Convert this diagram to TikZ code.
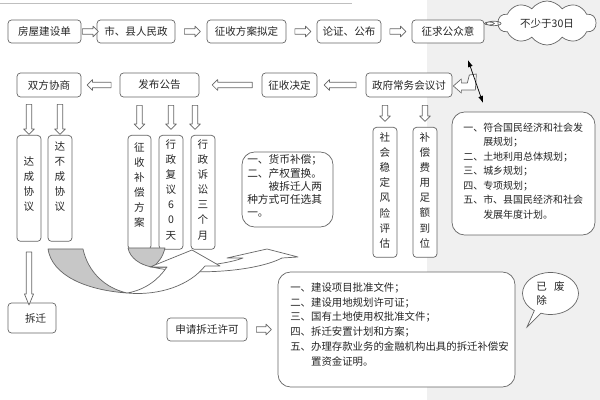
\documentclass[tikz,border=0pt]{standalone}
\usepackage{fontspec}
\setmainfont{Noto Sans CJK SC}
\usetikzlibrary{calc,arrows.meta,shapes.arrows,shapes.symbols,shapes.callouts}

\newcommand\unitpx{0.025cm}
\tikzset{
  sz/.style 2 args={minimum width=#1*\unitpx, minimum height=#2*\unitpx},
  box/.style={draw=black!60, line width=0.5pt, fill=white, rounded corners=2.5pt, inner sep=0pt, text=black!85, font=\fontsize{7.5}{10}\selectfont},
  bigbox/.style={box, rounded corners=9pt},
  vtxt/.style={align=center, inner sep=0pt, text=black!85, font=\fontsize{7.5}{10.7}\selectfont},
  ltxt/.style={align=left, inner sep=0pt, text=black!85},
  hollow/.style={draw=black!60, fill=white, line width=0.5pt, line join=round},
  blockarrow/.style={hollow, single arrow, inner sep=1.7pt, single arrow head extend=1.9pt, single arrow tip angle=90},
  rarrow/.style={blockarrow},
  larrow/.style={blockarrow, shape border rotate=180},
  darrow/.style={blockarrow, shape border rotate=270},
}

\begin{document}
\begin{tikzpicture}[x=\unitpx, y=-\unitpx]
  % page
  \fill[white] (0,0) rectangle (427,400);
  \fill[black!6] (427,0) rectangle (600,400);
  \useasboundingbox (0,0) rectangle (600,400);
  \draw[black!25, line width=0.6pt] (0,3) -- (352,3);

  % first row
  \node[box, sz={73}{23}] (fw) at (44.5,31.5) {房屋建设单};
  \node[box, sz={78}{23}] (shi) at (136,31.5) {市、县人民政};
  \node[box, sz={79}{23}] (ni) at (246.5,31.5) {征收方案拟定};
  \node[box, sz={64}{23}] (lz) at (349,31.5) {论证、公布};
  \node[box, sz={72}{23}] (zq) at (448,31.5) {征求公众意};
  \foreach \a/\b in {fw/shi, shi/ni, ni/lz, lz/zq}
    \node[rarrow, minimum height=16*\unitpx] (r-\a) at ($(\a.east)!.5!(\b.west)$) {};
  \node[cloud callout, draw=black!60, fill=white, line width=0.5pt, cloud puffs=10,
        cloud puff arc=110, cloud ignores aspect, sz={98}{44}, inner sep=0pt,
        callout absolute pointer={($(zq.east)+(5,-8)$)}, text=black!85,
        font=\fontsize{7.5}{9}\selectfont] (ts) at (547,23) {不少于30日};

  % second row
  \node[box, sz={64}{24}] (xs) at (49,85) {双方协商};
  \node[box, sz={79}{24}] (fb) at (159.5,85) {发布公告};
  \node[box, sz={55}{24}] (jd) at (289.5,85) {征收决定};
  \node[box, sz={86}{24}] (zf) at (409,85) {政府常务会议讨};
  \node[larrow, minimum height=24*\unitpx] (l-xs) at ($(xs.east)!.5!(fb.west)$) {};
  \node[larrow, minimum height=40*\unitpx] (l-fb) at ($(fb.east)!.55!(jd.west)$) {};
  \node[larrow, minimum height=32*\unitpx] (l-jd) at ($(jd.east)!.5!(zf.west)$) {};
  \path[hollow] ($(zf.east)+(1,1)$) -- ++(8,-7) -- ++(0,4) -- ++(6,0) -- ++(2,-8)
    -- ++(7,-1) -- ++(-1,16) -- ++(-14,0) -- ++(0,3) -- cycle;
  \coordinate (dj-a) at (468,60);
  \coordinate (dj-b) at (483,103);
  \draw[{Latex[length=5pt,width=3.5pt]}-{Latex[length=5pt,width=3.5pt]}, line width=0.5pt] (dj-a) -- (dj-b);

  % vertical boxes
  \node[box, sz={24}{106}, anchor=north] (dc) at (29,135) {};
  \node[box, sz={24}{106}, anchor=north] (dbc) at (60,135) {};
  \node[box, sz={23}{114}, anchor=north] (zb) at (139.5,135) {};
  \node[box, sz={24}{114}, anchor=north] (fy) at (171,135) {};
  \node[box, sz={24}{114}, anchor=north] (ss) at (203,135) {};
  \node[box, sz={24}{130}, anchor=north] (wd) at (385,127) {};
  \node[box, sz={24}{130}, anchor=north] (zj) at (425,127) {};
  \node[vtxt, anchor=north] (dc-t) at ($(dc.north)+(0,21.6)$) {达\\成\\协\\议};
  \node[vtxt, anchor=north] (dbc-t) at ($(dbc.north)+(0,6.6)$) {达\\不\\成\\协\\议};
  \node[vtxt, anchor=north] (zb-t) at ($(zb.north)+(0,7.6)$) {征\\收\\补\\偿\\方\\案};
  \node[vtxt, anchor=north] (fy-t) at ($(fy.north)+(0,4.6)$) {行\\政\\复\\议\\6\\0\\天};
  \node[vtxt, anchor=north] (ss-t) at ($(ss.north)+(0,4.6)$) {行\\政\\诉\\讼\\三\\个\\月};
  \node[vtxt, anchor=north] (wd-t) at ($(wd.north)+(0,5.6)$) {社\\会\\稳\\定\\风\\险\\评\\估};
  \node[vtxt, anchor=north] (zj-t) at ($(zj.north)+(0,5.6)$) {补\\偿\\费\\用\\足\\额\\到\\位};
  \foreach \b in {dc, dbc}
    \node[darrow, minimum height=30*\unitpx] (d-\b) at ($(\b.north)+(0,-17)$) {};
  \foreach \b in {zb, fy}
    \node[darrow, minimum height=24*\unitpx] (d-\b) at ($(\b.north)+(0,-19)$) {};
  \node[darrow, minimum height=24*\unitpx] (d-ss) at ($(ss.north)+(-8,-19)$) {};
  \foreach \b in {wd, zj}
    \node[darrow, minimum height=16*\unitpx] (d-\b) at ($(\b.north)+(0,-15)$) {};

  % curved arrows
  \path[hollow, fill=black!22] (128,248) -- (165,248) .. controls (163,256) and (159,263) .. (152,267)
    .. controls (140,265) and (130,258) .. (128,248) -- cycle;
  \path[hollow] (152,267) .. controls (180,268) and (222,266) .. (243,258) -- (227,258) -- (267,249)
    -- (298,257) -- (282,258) .. controls (255,272) and (190,276) .. (152,267) -- cycle;
  \path[hollow, fill=black!22] (48,249) -- (83,249) .. controls (88,272) and (105,288) .. (127,293)
    .. controls (85,290) and (52,275) .. (48,249) -- cycle;
  \path[hollow] (127,293) .. controls (145,290) and (158,280) .. (167,267) -- (150,267) -- (192,250)
    -- (220,266) -- (205,266) .. controls (190,285) and (160,296) .. (127,293) -- cycle;

  % text boxes
  \node[bigbox, sz={91}{75}] (hb) at (287.5,189.5) {};
  \node[ltxt, anchor=north west, font=\fontsize{7.6}{9.4}\selectfont] (hb-t) at (247,154.5)
    {一、货币补偿；\\二、产权置换。\\\hspace*{2em}被拆迁人两\\种方式可任选其\\一。};
  \node[bigbox, sz={143}{123}] (gh) at (523.5,173.5) {};
  \node[ltxt, anchor=north west, font=\fontsize{7.1}{10.3}\selectfont] (gh-t) at (463,122.8)
    {一、符合国民经济和社会发\\\hspace*{2em}展规划；\\二、土地利用总体规划；\\三、城乡规划；\\四、专项规划；\\五、市、县国民经济和社会\\\hspace*{2em}发展年度计划。};

  % bottom
  \node[box, sz={48}{30}] (cq) at (32,318) {\hspace*{0.7em}拆迁};
  \node[darrow, single arrow tip angle=45, single arrow head extend=1.3pt, minimum height=53*\unitpx]
    (d-cq) at ($(dc.south)!.5!(dc.south |- cq.north)+(0,3)$) {};
  \node[box, sz={80}{23}] (sq) at (207,329.5) {申请拆迁许可};
  \node[bigbox, sz={237}{115}] (tj) at (396.5,329.5) {};
  \node[rarrow, minimum height=15*\unitpx] (r-sq) at ($(sq.east)!.5!(tj.west)$) {};
  \node[ltxt, anchor=north west, font=\fontsize{7.4}{10.45}\selectfont] (tj-t) at (290,282.5)
    {一、建设项目批准文件；\\二、建设用地规划许可证；\\三、国有土地使用权批准文件；\\四、拆迁安置计划和方案；\\五、办理存款业务的金融机构出具的拆迁补偿安\\\hspace*{2em}置资金证明。};
  \node[ellipse callout, draw=black!60, fill=white, line width=0.5pt, sz={56}{42}, inner sep=0pt,
        align=left, callout absolute pointer={(527,327)}, text=black!85,
        font=\fontsize{7.5}{10.5}\selectfont] (yf) at (550.5,293.5) {已\hspace{0.7em}废\\除};
\end{tikzpicture}
\end{document}
